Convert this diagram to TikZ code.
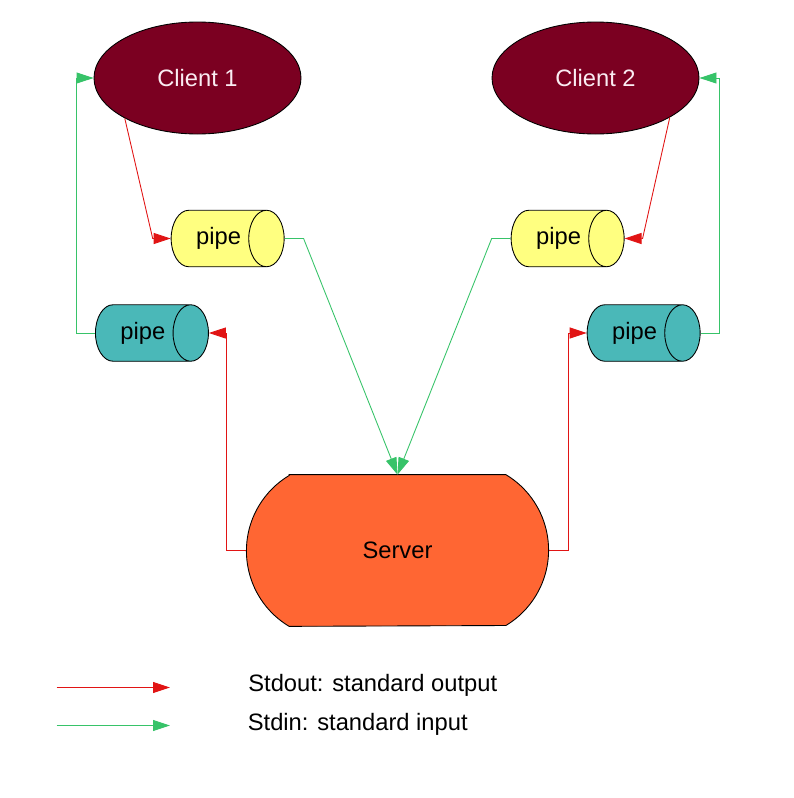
\documentclass[tikz,border=0pt]{standalone}
\usepackage{fontspec}
\setmainfont{Liberation Sans}
\usetikzlibrary{arrows.meta,shapes.geometric,backgrounds}

\definecolor{clientred}{RGB}{123,0,33}
\definecolor{clienttext}{RGB}{250,236,242}
\definecolor{pipeyellow}{RGB}{255,255,128}
\definecolor{pipeteal}{RGB}{74,184,184}
\definecolor{serverorange}{RGB}{255,102,51}
\definecolor{outred}{RGB}{225,20,20}
\definecolor{ingreen}{RGB}{55,195,105}

\begin{document}
\begin{tikzpicture}[>={Triangle[length=0.34cm,width=0.22cm]},
  font=\fontsize{13.5}{16}\selectfont,
  client/.style={ellipse, draw=black, line width=0.5pt, fill=clientred, text=clienttext,
    minimum width=4.14cm, minimum height=2.24cm, inner sep=0pt},
  pipe/.style={cylinder, draw=black, line width=0.5pt, aspect=1.6, anchor=west,
    minimum width=1.13cm, minimum height=2.26cm, inner sep=0pt},
  server/.style={rectangle, minimum width=6.03cm, minimum height=3.02cm},
  stdout/.style={->, outred, line width=0.5pt},
  stdin/.style={->, ingreen, line width=0.5pt}]

  \useasboundingbox (0,0) rectangle (15.88,-15.96);

  % Clients
  \node[client] (c1) at (3.95,-1.56) {Client 1};
  \node[client] (c2) at (11.91,-1.56) {Client 2};

  % Pipes
  \node[pipe, fill=pipeyellow] (py1) at (3.414,-4.77) {pipe};
  \node[pipe, fill=pipeyellow] (py2) at (10.214,-4.77) {pipe};
  \node[pipe, fill=pipeteal] (pt1) at (1.90,-6.66) {pipe};
  \node[pipe, fill=pipeteal] (pt2) at (11.734,-6.66) {pipe};

  % Server
  \node[server] (srv) at (7.95,-11.01) {Server};
  \begin{scope}[on background layer]
    \draw[fill=serverorange, line width=0.5pt]
      ([xshift=0.854cm]srv.north west) -- ([xshift=-0.854cm]srv.north east)
      arc[start angle=59, end angle=-59, radius=1.76cm]
      -- ([xshift=0.854cm]srv.south west)
      arc[start angle=239, end angle=121, radius=1.76cm] -- cycle;
  \end{scope}

  % Stdout
  \draw[stdout] (c1.209) -- ([xshift=-0.36cm]py1.west) -- (py1.west);
  \draw[stdout] (c2.332) -- ([xshift=0.36cm]py2.east) -- (py2.east);
  \draw[stdout] (srv.west) -- ++(-0.4,0) |- (pt1.east);
  \draw[stdout] (srv.east) -- ++(0.4,0) |- (pt2.west);

  % Stdin
  \draw[stdin] (py1.east) -- ++(0.38,0) -- (srv.north);
  \draw[stdin] (py2.west) -- ++(-0.38,0) -- (srv.north);
  \draw[stdin] (pt1.west) -- ++(-0.37,0) |- (c1.west);
  \draw[stdin] (pt2.east) -- ++(0.38,0) |- (c2.east);

  % Legende
  \coordinate (o1) at (1.13,-13.75);
  \coordinate (o2) at (3.40,-13.75);
  \coordinate (i1) at (1.13,-14.51);
  \coordinate (i2) at (3.40,-14.51);
  \draw[stdout] (o1) -- (o2);
  \draw[stdin] (i1) -- (i2);
  \node[anchor=base west, inner sep=0pt] (lout) at (4.96,-13.83) {Stdout: standard output};
  \node[anchor=base west, inner sep=0pt] (lin) at (4.95,-14.61) {Stdin: standard input};
\end{tikzpicture}
\end{document}
